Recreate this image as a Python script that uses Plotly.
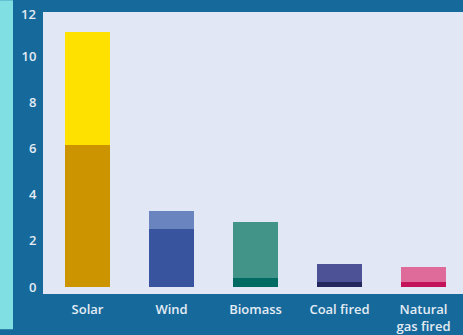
import plotly.graph_objects as go

categories = ["Solar", "Wind", "Biomass", "Coal fired", "Natural<br>gas fired"]
base_values = [6.15, 2.5, 0.38, 0.21, 0.21]
top_values = [4.9, 0.78, 2.43, 0.77, 0.68]
base_colors = ["#cc9500", "#39549e", "#006b63", "#25285c", "#c41459"]
top_colors = ["#ffe100", "#6a84bf", "#429488", "#4d5296", "#df6b9b"]
y_ticks = [0, 2, 4, 6, 8, 10]

fig = go.Figure()
fig.add_trace(go.Bar(x=categories, y=base_values, marker=dict(color=base_colors, line=dict(width=0)),
                     showlegend=False, hoverinfo="skip"))
fig.add_trace(go.Bar(x=categories, y=top_values, marker=dict(color=top_colors, line=dict(width=0)),
                     showlegend=False, hoverinfo="skip"))

W, H = 463, 335
l, r, t, b = 43, 0, 12, 36
pw = W - l - r
tf = dict(family="Open Sans", size=13, color="#e4ecf4", weight=600)
fig.update_layout(
    width=W, height=H, barmode="stack", bargap=0.46,
    margin=dict(l=l, r=r, t=t, b=b, pad=0),
    paper_bgcolor="#16699b", plot_bgcolor="#e2e7f5",
    font=tf,
    xaxis=dict(range=[-0.53, 4.47], showgrid=False, zeroline=False, showline=False,
               ticks="outside", ticklen=3, tickcolor="rgba(0,0,0,0)", tickfont=tf),
    yaxis=dict(range=[-0.3, 11.91], tickvals=y_ticks, showgrid=False, zeroline=False,
               showline=False, ticks="outside", ticklen=3, tickcolor="rgba(0,0,0,0)",
               tickfont=tf),
    shapes=[dict(type="rect", xref="paper", yref="paper", x0=-l / pw, x1=-(l - 13) / pw,
                 y0=-b / (H - t - b), y1=1 + t / (H - t - b), fillcolor="#7fdfe3",
                 line=dict(width=0), layer="above")],
    annotations=[dict(text="12", xref="paper", yref="paper", x=0, y=1, xanchor="right",
                      yanchor="middle", xshift=-5, yshift=-2, showarrow=False, font=tf)],
)
fig.write_html("out.html")
